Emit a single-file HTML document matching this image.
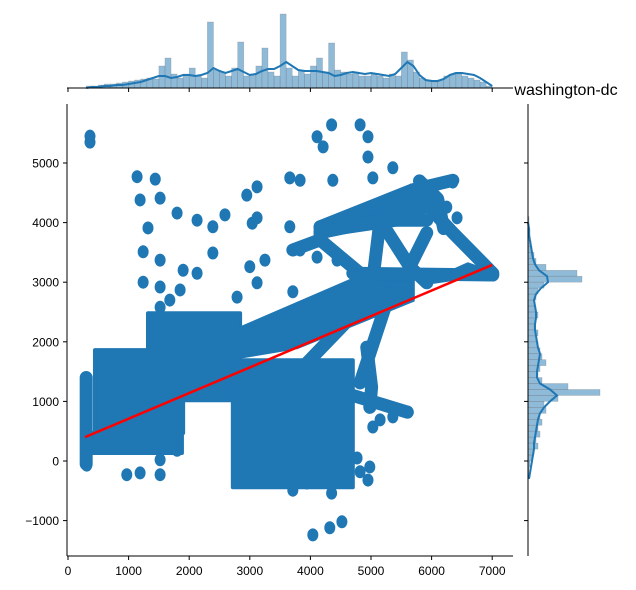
<!DOCTYPE html>
<html><head><meta charset="utf-8"><style>
html,body{margin:0;padding:0;background:#fff;}
svg{display:block;font-family:"Liberation Sans",sans-serif;}
</style></head><body>
<svg id="c" width="636" height="590" viewBox="0 0 636 590">
<g id="topm"></g>
<g id="rightm"></g>
<g id="main"></g>
<g id="axes"></g>
<text x="566" y="95" font-size="16" text-anchor="middle" fill="#000">washington-dc</text>
</svg>
<script>
const xTicks=[0,1000,2000,3000,4000,5000,6000,7000];
const yTicks=[-1000,0,1000,2000,3000,4000,5000];
const topHistStart=300, topHistStep=100;
const topHist=[2,2,3,4,4,5,6, 7,8,9,10,9,22,30,14,10,14, 20,12,10,66,18,16,12,20,46,12, 14,22,40,16,12,74,20,12,18,14, 22,30,16,45,18,16,14,16,12,12, 14,12,10,14,12,36,28,16,10,8, 6,8,12,14,14,12,10,8,6,2];
const topKde=[0,1,1,2,2,3,3,4,5,6,8,10,12,12,10,11,13,13,12,13,15,20,17,15,17,19,16,13,14,17,19,19,22,26,22,18,17,17,17,16,15,12,13,15,16,15,14,15,14,13,12,14,20,26,22,13,8,7,7,9,13,15,15,14,13,10,6,2];
const rightStart=-300, rightStep=100;
const rightHist=[1,1,2,4,6,10,8,12,10,14,12,18,16,30,72,40,14,10,12,18,14,12,10,8,10,6,8,10,8,6,8,10,16,54,49,18,8,6,4,3,2,2,1,1];
const rightKde=[1,2,3,4,5,6,6,7,8,9,10,12,16,22,29,22,12,9,9,10,11,12,10,9,8,7,7,8,8,7,6,8,13,20,19,11,7,5,4,3,2,1,1,0];
const denseAreas=[
 [[445,470],[1900,470],[1900,1860],[445,1860]],
 [[280,135],[1880,135],[1880,470],[280,470]],
 [[1320,1020],[2840,1020],[2840,2480],[1320,2480]],
 [[2720,-440],[4700,-440],[4700,1690],[2720,1690]],
 [[2790,2200],[4770,3070],[5690,3040],[5690,2700],[3780,1910],[2840,1750]],
 [[4160,3930],[5690,4550],[5920,4040],[4160,3780]],
 [[5920,2990],[6600,3300],[7010,3150]]
];
const tracks=[
 [[5150,2920],[3880,1580]],
 [[5310,2820],[4820,1310]],
 [[4930,1910],[5010,1240],[4980,900]],
 [[300,1400],[300,-50]],
 [[4700,1100],[5600,820]],
 [[4160,3930],[5690,4550],[6350,4710]],
 [[4160,3830],[5150,4040],[5920,4040]],
 [[5150,4040],[5030,3040]],
 [[5150,4040],[5640,3260],[5920,2990]],
 [[5690,4550],[6350,3830],[7010,3150]],
 [[5920,3830],[5640,3260]],
 [[4700,3150],[7010,3120]],
 [[4160,3710],[4820,3150]],
 [[3710,3540],[4160,3710]],
 [[4160,3930],[4160,3710]],
 [[5800,4700],[6100,4400],[6200,3900]]
];
const ptsX=[363,1140,1440,1190,1520,1800,1320,2130,2390,2590,3040,3120,2950,3120,3660,3830,4370,4110,4210,4350,4820,4950,4950,5030,5360,3660,3830,2390,1240,1520,1900,1240,1520,2130,3000,3250,3120,1520,1680,1850,3710,2790,4110,4440,6420,6250,6350,970,1190,1520,1520,310,1800,3710,3940,4350,4350,4520,4770,4980,4950,4820,4570,5150,5360,5610,5030,4040,4320,4520,363];
const ptsY=[5350,4770,4730,4380,4410,4160,3910,4040,3930,4130,3990,4080,4460,4600,4750,4710,4710,5440,5270,5640,5640,5440,5100,4750,4920,3930,3540,3490,3510,3370,3200,3000,2920,3150,3260,3370,2990,2580,2700,2870,2840,2750,3420,3370,4080,4260,4680,-230,-200,20,-230,-70,180,-490,-370,-370,-540,-150,50,-100,-320,-180,230,690,740,820,570,-1240,-1120,-1020,5450];
const regX=[280,7000], regY=[400,3290];

const NS="http://www.w3.org/2000/svg";
const X=v=>68+v*0.0606, Y=v=>461-v*0.0596;
const C="#1f77b4";
function mk(t,a,p){const e=document.createElementNS(NS,t);for(const k in a)e.setAttribute(k,a[k]);p.appendChild(e);return e;}
const main=document.getElementById('main'), axes=document.getElementById('axes');
const topm=document.getElementById('topm'), rightm=document.getElementById('rightm');

denseAreas.forEach(a=>{
 const e=mk('polygon',{points:a.map(p=>X(p[0])+','+Y(p[1])).join(' '),fill:C,stroke:C,'stroke-width':4,'stroke-linejoin':'round'},main);
 
 
});
tracks.forEach(t=>{
 const e=mk('polyline',{points:t.map(p=>X(p[0])+','+Y(p[1])).join(' '),fill:'none',stroke:C,'stroke-width':13,'stroke-linecap':'round','stroke-linejoin':'round'},main);
 
 
});
ptsX.forEach((v,i)=>{
 const e=mk('ellipse',{cx:X(v),cy:Y(ptsY[i]),rx:5.5,ry:6.5,fill:C},main);
 
 
});
const rl=mk('line',{x1:X(regX[0]),y1:Y(regY[0]),x2:X(regX[1]),y2:Y(regY[1]),stroke:'#ff0000','stroke-width':2.5},main);



const bw=topHistStep*0.0606;
topHist.forEach((h,i)=>{
 const x0=X(topHistStart+i*topHistStep);
 const e=mk('rect',{x:x0,y:88-h,width:bw,height:h,fill:'rgba(31,119,180,0.5)',stroke:'rgba(120,120,120,0.4)','stroke-width':0.6},topm);
 
 
});
const tk=mk('polyline',{points:topKde.map((h,i)=>X(topHistStart+i*topHistStep)+','+(88-h)).join(' '),fill:'none',stroke:C,'stroke-width':2},topm);



const bh=rightStep*0.0596;
rightHist.forEach((w,i)=>{
 const y1=Y(rightStart+i*rightStep);
 const e=mk('rect',{x:528,y:y1-bh,width:w,height:bh,fill:'rgba(31,119,180,0.5)',stroke:'rgba(120,120,120,0.4)','stroke-width':0.6},rightm);
 
 
});
const rk=mk('polyline',{points:rightKde.map((w,i)=>(528+w)+','+Y(rightStart+i*rightStep)).join(' '),fill:'none',stroke:C,'stroke-width':2},rightm);



[[67,104,67,556],[67,556,513,556],[67,88,513,88],[528,104,528,556]].forEach(s=>{
 const e=mk('line',{x1:s[0],y1:s[1],x2:s[2],y2:s[3],stroke:'#000','stroke-width':1},axes);
 
 
});
xTicks.forEach(v=>{
 mk('line',{x1:X(v),y1:556,x2:X(v),y2:560,stroke:'#000'},axes);
 mk('line',{x1:X(v),y1:88,x2:X(v),y2:92,stroke:'#000'},axes);
 const t=mk('text',{x:X(v),y:575,'font-size':12,'text-anchor':'middle',fill:'#000'},axes);
 t.textContent=v;
 
 
});
yTicks.forEach(v=>{
 mk('line',{x1:63,y1:Y(v),x2:67,y2:Y(v),stroke:'#000'},axes);
 mk('line',{x1:524,y1:Y(v),x2:528,y2:Y(v),stroke:'#000'},axes);
 const t=mk('text',{x:59,y:Y(v)+4.5,'font-size':12,'text-anchor':'end',fill:'#000'},axes);
 t.textContent=v<0?'\u2212'+Math.abs(v):v;
 
 
});
</script>
</body></html>
